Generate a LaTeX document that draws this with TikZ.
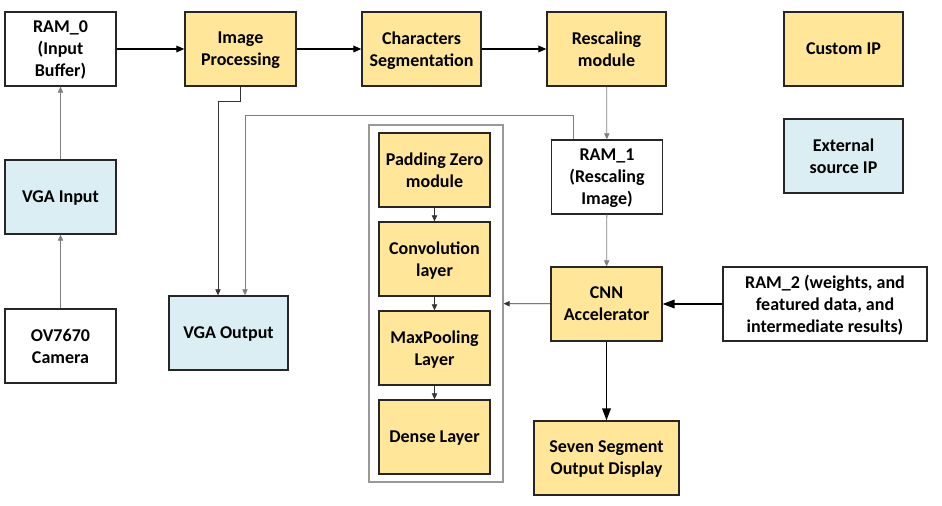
\documentclass[tikz,border=0pt]{standalone}
\usepackage{fontspec}
\setmainfont{Carlito}
\usetikzlibrary{arrows.meta}

\definecolor{ipgold}{HTML}{FFE699}
\definecolor{ipblue}{HTML}{DAEEF3}
\definecolor{wire}{HTML}{7F7F7F}

\tikzset{
  blk/.style={draw=black!85, line width=1pt, minimum width=83.25pt, minimum height=55.5pt,
    align=center, inner sep=1pt, text depth=0pt, font=\fontsize{13.5}{16.5}\selectfont\bfseries},
  custom/.style={blk, fill=ipgold},
  extern/.style={blk, fill=ipblue},
  mem/.style={blk, fill=white},
  wide/.style={minimum width=89.25pt},
  bus/.style={-{Triangle[length=6pt,width=5pt]}, line width=0.9pt},
  heavy/.style={-{Triangle[length=9pt,width=6.5pt]}, line width=1.1pt},
  link/.style={-{Triangle[length=4.5pt,width=4pt]}, line width=0.6pt, draw=wire},
  dark/.style={-{Triangle[length=4.5pt,width=4pt]}, line width=0.6pt, draw=black!80}
}

\begin{document}
\begin{tikzpicture}[x=0.75pt,y=-0.75pt]
    \useasboundingbox (0,0) rectangle (942,506);

    % Define blocks
    \node[mem] (ram0) at (60.5,49) {RAM\_0\\(Input\\Buffer)};
    \node[custom] (imgp) at (240.5,49) {Image\\Processing};
    \node[custom,wide] (chseg) at (421.5,49) {Characters\\Segmentation};
    \node[custom,wide] (rescale) at (606.5,49) {Rescaling\\module};
    \node[custom,wide] (cip) at (843.5,49) {Custom IP};
    \node[extern,wide] (eip) at (843.5,156) {External\\source IP};

    \node[extern] (vgain) at (60.5,197) {VGA Input};
    \node[mem] (cam) at (60.5,346) {OV7670\\Camera};
    \node[extern,wide] (vgaout) at (228.5,333) {VGA Output};

    \node[mem] (ram1) at (607,177) {RAM\_1\\(Rescaling\\Image)};
    \node[custom] (cnn) at (606.5,304) {CNN\\Accelerator};
    \node[mem,minimum width=153pt] (ram2) at (825,304) {RAM\_2 (weights, and\\featured data, and\\intermediate results)};
    \node[custom,minimum width=108.75pt] (seven) at (606.5,458) {Seven Segment\\Output Display};

    % CNN layers
    \node[draw=black!40, line width=0.9pt, minimum width=100.5pt, minimum height=267.75pt] (cnnbox) at (436,303.5) {};
    \node[custom] (pad) at (434.5,170) {Padding Zero\\module};
    \node[custom] (conv) at (434.5,259) {Convolution\\layer};
    \node[custom] (maxp) at (434.5,348) {MaxPooling\\Layer};
    \node[custom] (dense) at (434.5,437) {Dense Layer};

    % Draw connections
    \draw[bus] (ram0) -- (imgp);
    \draw[bus] (imgp) -- (chseg);
    \draw[bus] (chseg) -- (rescale);
    \draw[link] (rescale) -- (ram1);
    \draw[link] (ram1) -- (cnn);
    \draw[heavy] (ram2) -- (cnn);
    \draw[heavy] (cnn) -- (seven);
    \draw[dark] (cnn) -- (cnnbox);
    \draw[dark] (pad) -- (conv);
    \draw[dark] (conv) -- (maxp);
    \draw[dark] (maxp) -- (dense);
    \draw[link] (cam) -- (vgain);
    \draw[link] (vgain) -- (ram0);
    \draw[dark] (imgp.south) -- ++(0,15) -| ([xshift=-7.875pt]vgaout.north);
    \draw[link] ([xshift=-25.5pt]ram1.north) -- ++(0,-24) -| ([xshift=12.375pt]vgaout.north);
\end{tikzpicture}
\end{document}
